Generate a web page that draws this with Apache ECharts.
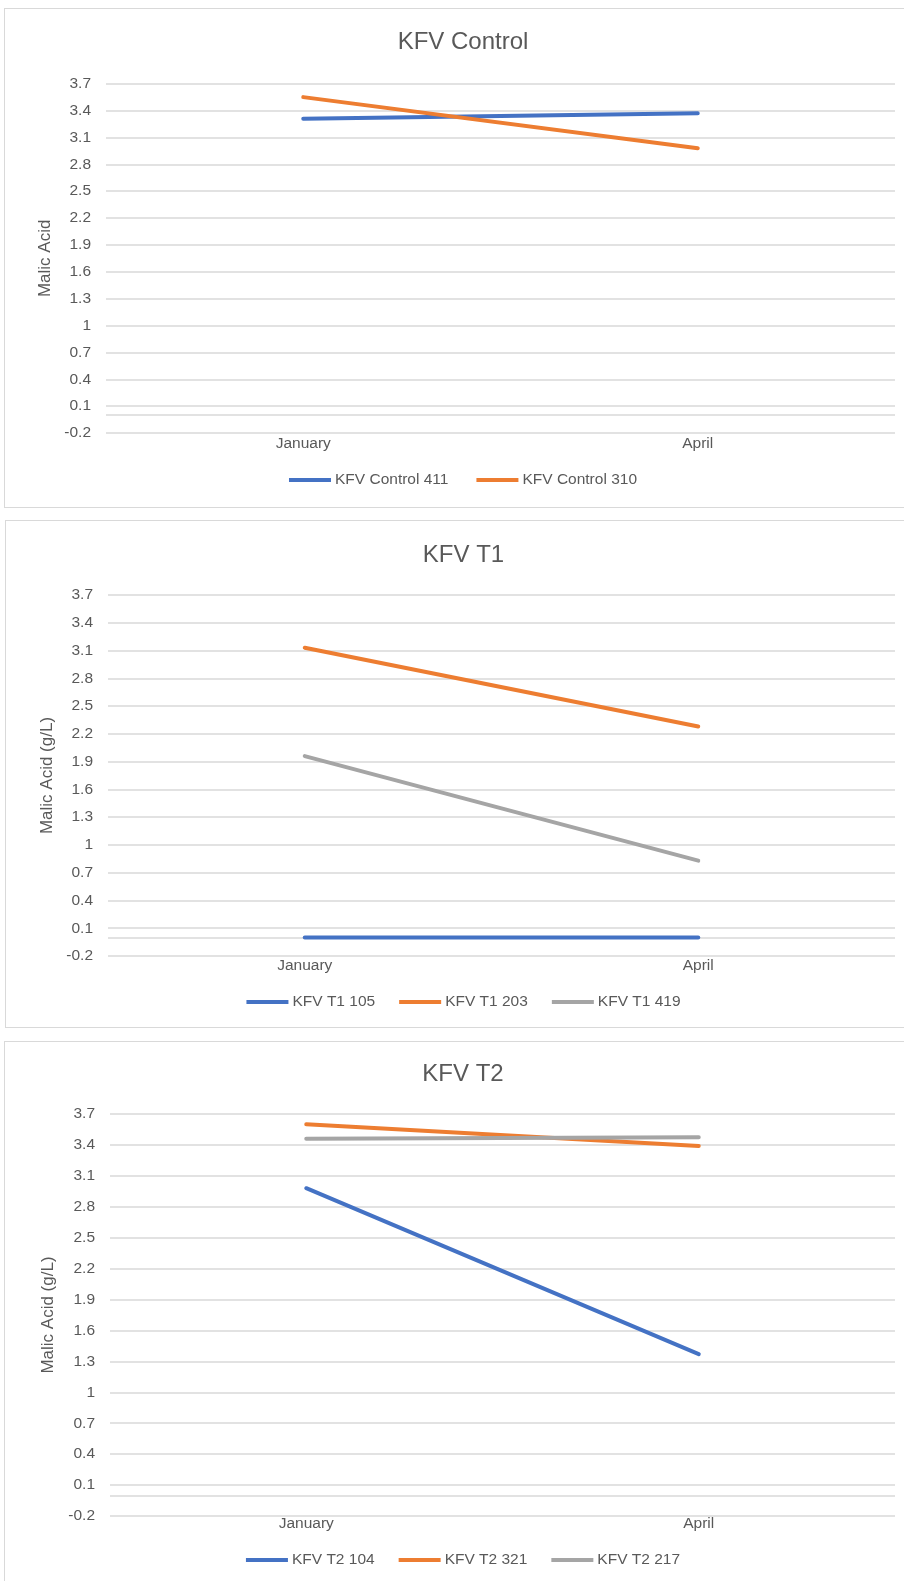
<!DOCTYPE html>
<html>
<head>
<meta charset="utf-8">
<script src="https://cdn.jsdelivr.net/npm/echarts@6/dist/echarts.min.js"></script>
<style>
  html, body {
    margin: 0;
    padding: 0;
    width: 904px;
    height: 1581px;
    overflow: hidden;
    background: #fff;
  }
  .panel {
    position: absolute;
    box-sizing: border-box;
    border: 1px solid #d9d9d9;
    background: #fff;
  }
  #kfv-control { left: 4px; top: 8px; width: 918px; height: 500px; }
  #kfv-t1 { left: 5px; top: 520px; width: 917px; height: 508px; }
  #kfv-t2 { left: 4px; top: 1041px; width: 918px; height: 570px; }
</style>
</head>
<body>
<div id="kfv-control" class="panel"></div>
<div id="kfv-t1" class="panel"></div>
<div id="kfv-t2" class="panel"></div>

<script>
// data
const months = ['January', 'April'];

const controlNames = ['KFV Control 411', 'KFV Control 310'];
const control411 = [3.31, 3.37];
const control310 = [3.55, 2.98];

const t1Names = ['KFV T1 105', 'KFV T1 203', 'KFV T1 419'];
const t1_105 = [0, 0];
const t1_203 = [3.13, 2.28];
const t1_419 = [1.96, 0.83];

const t2Names = ['KFV T2 104', 'KFV T2 321', 'KFV T2 217'];
const t2_104 = [2.98, 1.37];
const t2_321 = [3.60, 3.39];
const t2_217 = [3.46, 3.475];

const yMin = -0.2;
const yMax = 3.7;
const yStep = 0.3;

const colors = ['#4472C4', '#ED7D31', '#A5A5A5'];
const textColor = '#595959';
const gridColor = '#d9d9d9';
const font = '"Liberation Sans", Arial, sans-serif';

const drawChart = (id, cfg) => {
  const myChart = echarts.init(document.getElementById(id), null, {renderer: 'canvas'});
  const series = cfg.names.map((name, i) => ({
    name: name,
    type: 'line',
    data: cfg.values[i],
    symbol: 'none',
    color: colors[i],
    lineStyle: {width: 4, cap: 'round', color: colors[i]},
    z: 3 + i,
    // Excel draws the horizontal axis line at 0
    markLine: i === 0 ? {
      silent: true,
      symbol: 'none',
      label: {show: false},
      lineStyle: {color: gridColor, width: 1.5, type: 'solid'},
      data: [{yAxis: 0}],
      z: 1,
    } : undefined,
  }));

  const option = {
    animation: false,
    textStyle: {fontFamily: font},
    title: {
      text: cfg.title,
      left: 'center',
      top: cfg.titleTop,
      padding: 0,
      textStyle: {fontFamily: font, fontSize: 24, fontWeight: 'normal', color: textColor},
    },
    legend: {
      data: cfg.names,
      left: 'center',
      top: cfg.legendTop,
      padding: 0,
      icon: 'rect',
      itemWidth: 42,
      itemHeight: 4,
      itemGap: cfg.legendGap,
      textStyle: {fontFamily: font, fontSize: 15.5, color: textColor, padding: [0, 0, 0, -1]},
    },
    grid: {
      left: cfg.grid.left,
      right: 26,
      top: cfg.grid.top,
      height: cfg.grid.height,
      containLabel: false,
    },
    xAxis: {
      type: 'category',
      data: months,
      boundaryGap: true,
      axisLine: {show: false},
      axisTick: {show: false},
      axisLabel: {color: textColor, fontFamily: font, fontSize: 15.5, margin: cfg.labelMargin},
    },
    yAxis: {
      type: 'value',
      min: yMin,
      max: yMax,
      interval: yStep,
      name: cfg.yName,
      nameLocation: 'middle',
      nameGap: cfg.nameGap,
      nameTextStyle: {color: textColor, fontFamily: font, fontSize: 17},
      axisLine: {show: false},
      axisTick: {show: false},
      axisLabel: {
        color: textColor,
        fontFamily: font,
        fontSize: 15.5,
        margin: 15,
        formatter: (value) => String(+value.toFixed(1)),
      },
      splitLine: {lineStyle: {color: gridColor, width: 1.5}},
    },
    series: series,
  };
  myChart.setOption(option);
  return myChart;
};

drawChart('kfv-control', {
  title: 'KFV Control',
  titleTop: 21,
  yName: 'Malic Acid',
  nameGap: 52,
  names: controlNames,
  values: [control411, control310],
  legendTop: 463,
  legendGap: 28,
  labelMargin: 3,
  grid: {left: 101, top: 74.7, height: 349.3},
});

drawChart('kfv-t1', {
  title: 'KFV T1',
  titleTop: 22,
  yName: 'Malic Acid (g/L)',
  nameGap: 51,
  names: t1Names,
  values: [t1_105, t1_203, t1_419],
  legendTop: 473,
  legendGap: 24,
  labelMargin: 2,
  grid: {left: 102, top: 74, height: 361},
});

drawChart('kfv-t2', {
  title: 'KFV T2',
  titleTop: 20,
  yName: 'Malic Acid (g/L)',
  nameGap: 53,
  names: t2Names,
  values: [t2_104, t2_321, t2_217],
  legendTop: 510,
  legendGap: 24,
  labelMargin: 0,
  grid: {left: 105, top: 72, height: 402},
});
</script>
</body>
</html>
